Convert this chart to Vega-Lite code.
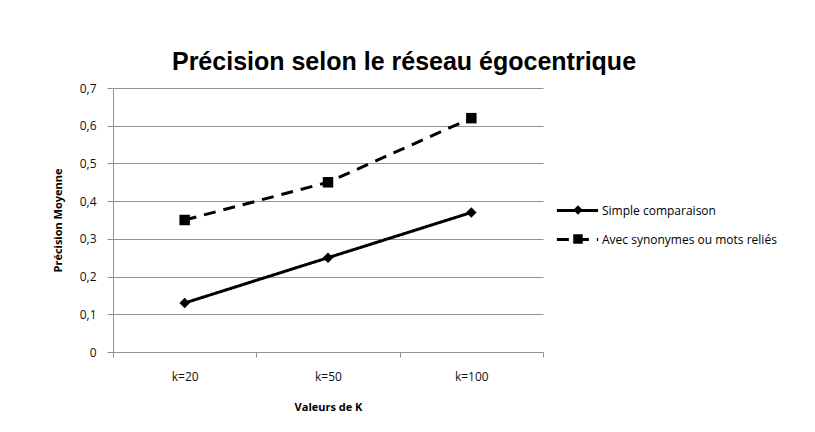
{
  "$schema": "https://vega.github.io/schema/vega-lite/v6.json",
  "autosize": "none",
  "width": 430,
  "height": 264,
  "padding": {"left": 113, "top": 88, "right": 272, "bottom": 80},
  "background": "white",
  "title": {
    "text": "Précision selon le réseau égocentrique",
    "font": "Liberation Sans Narrow, Liberation Sans",
    "fontSize": 25,
    "fontWeight": "bold",
    "color": "#000000",
    "anchor": "middle",
    "dx": 76,
    "offset": 7
  },
  "config": {
    "locale": {"number": {"decimal": ",", "thousands": " ", "grouping": [3], "currency": ["", " €"]}},
    "view": {"stroke": null},
    "font": "Open Sans",
    "axis": {
      "labelFont": "Open Sans",
      "labelFontSize": 12,
      "labelColor": "#111111",
      "titleFont": "Open Sans",
      "titleFontSize": 11,
      "titleFontWeight": "bold",
      "titleColor": "#000000",
      "domainColor": "#8a9696",
      "tickColor": "#8a9696",
      "gridColor": "#8a9696",
      "gridWidth": 1
    }
  },
  "data": {
    "values": [
      {"k": "k=20", "serie": "Simple comparaison", "marqueur": "Simple comparaison", "precision": 0.13},
      {"k": "k=50", "serie": "Simple comparaison", "marqueur": "Simple comparaison", "precision": 0.25},
      {"k": "k=100", "serie": "Simple comparaison", "marqueur": "Simple comparaison", "precision": 0.37},
      {"k": "k=20", "serie": "Avec synonymes ou mots reliés", "marqueur": "Avec synonymes ou mots reliés", "precision": 0.35},
      {"k": "k=50", "serie": "Avec synonymes ou mots reliés", "marqueur": "Avec synonymes ou mots reliés", "precision": 0.45},
      {"k": "k=100", "serie": "Avec synonymes ou mots reliés", "marqueur": "Avec synonymes ou mots reliés", "precision": 0.62}
    ]
  },
  "encoding": {
    "x": {
      "field": "k",
      "type": "nominal",
      "sort": ["k=20", "k=50", "k=100"],
      "scale": {"paddingInner": 0, "paddingOuter": 0},
      "axis": {
        "title": "Valeurs de K",
        "labelAngle": 0,
        "labelPadding": 14,
        "titlePadding": 19,
        "tickBand": "extent",
        "tickSize": 5,
        "grid": false
      }
    },
    "y": {
      "field": "precision",
      "type": "quantitative",
      "scale": {"domain": [0, 0.7], "nice": false},
      "axis": {
        "title": "Précision Moyenne",
        "format": ".1~f",
        "values": [0, 0.1, 0.2, 0.3, 0.4, 0.5, 0.6, 0.7],
        "tickSize": 6,
        "labelPadding": 11,
        "titlePadding": 16,
        "grid": true
      }
    }
  },
  "layer": [
    {
      "mark": {"type": "line", "color": "#000000", "strokeWidth": 3},
      "encoding": {
        "strokeDash": {
          "field": "serie",
          "type": "nominal",
          "scale": {"domain": ["Simple comparaison", "Avec synonymes ou mots reliés"], "range": [[1, 0], [12, 8]]},
          "legend": {
            "title": null,
            "orient": "none",
            "legendX": 442,
            "legendY": 100,
            "labelFont": "Open Sans",
            "labelFontSize": 12,
            "labelColor": "#000000",
            "labelLimit": 300,
            "labelOffset": 2,
            "symbolType": "stroke",
            "symbolSize": 1700,
            "symbolStrokeWidth": 3,
            "symbolStrokeColor": "#000000",
            "rowPadding": -1
          }
        }
      }
    },
    {
      "mark": {"type": "point", "filled": true, "color": "#000000", "opacity": 1},
      "encoding": {
        "shape": {
          "field": "marqueur",
          "type": "nominal",
          "sort": "descending",
          "scale": {"range": ["diamond", "square"]},
          "legend": {
            "title": null,
            "orient": "none",
            "legendX": 459,
            "legendY": 116,
            "labelExpr": "''",
            "labelFontSize": 12,
            "labelFont": "Open Sans",
            "symbolFillColor": "#000000",
            "symbolStrokeColor": "#000000",
            "symbolSize": 90,
            "symbolOpacity": 1,
            "rowPadding": 13
          }
        },
        "size": {"value": 110}
      }
    }
  ]
}
